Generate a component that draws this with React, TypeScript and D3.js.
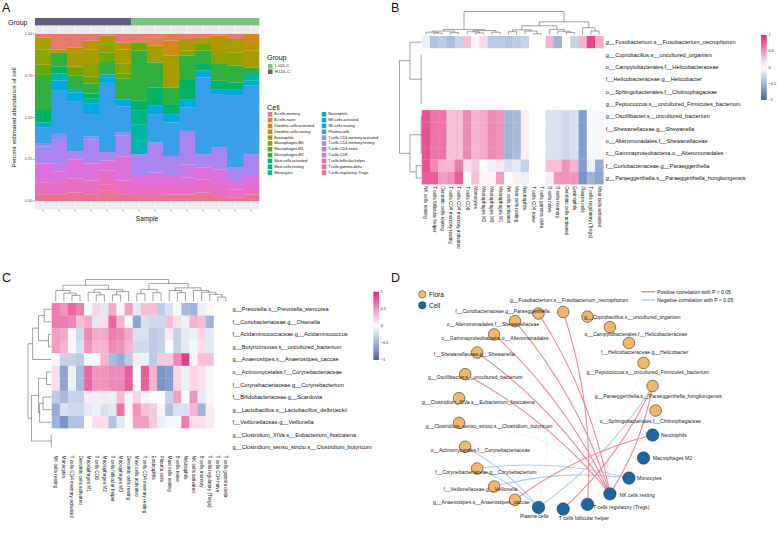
import React from "react";
import * as d3 from "d3";

const FONT = "'Liberation Sans', Arial, Helvetica, sans-serif";

// ---------------- Panel A data ----------------
const cellTypes = [
  "B.cells.memory", "B.cells.naive", "Dendritic.cells.activated", "Dendritic.cells.resting",
  "Eosinophils", "Macrophages.M0", "Macrophages.M1", "Macrophages.M2",
  "Mast.cells.activated", "Mast.cells.resting", "Monocytes", "Neutrophils",
  "NK.cells.activated", "NK.cells.resting", "Plasma.cells", "T.cells.CD4.memory.activated",
  "T.cells.CD4.memory.resting", "T.cells.CD4.naive", "T.cells.CD8", "T.cells.follicular.helper",
  "T.cells.gamma.delta", "T.cells.regulatory..Tregs.",
];
const samples = ["S1", "S2", "S3", "S4", "S5", "S6", "S7", "S8", "S9", "S10", "S11", "S12", "S13", "S14"];
const sampleGroups = ["H-LDL-C", "H-LDL-C", "H-LDL-C", "H-LDL-C", "H-LDL-C", "H-LDL-C",
  "L-LDL-C", "L-LDL-C", "L-LDL-C", "L-LDL-C", "L-LDL-C", "L-LDL-C", "L-LDL-C", "L-LDL-C"];
const groupLevels = ["L-LDL-C", "H-LDL-C"];
const groupColors = ["#78C47E", "#625D7D"];
const yTicksA = [0, 0.25, 0.5, 0.75, 1];
// rows = samples, columns = cellTypes
const abundance = [
  [.02, 0, 0, .01, .06, .09, .06, .20, .08, 0, 0, 0, 0, .03, .09, .02, .10, 0, .11, .07, 0, .04],
  [.09, 0, 0, 0, .02, 0, 0, .08, .04, 0, .02, .02, 0, .06, .25, .03, .14, .05, .06, .07, 0, .04],
  [.08, 0, 0, .03, .08, 0, .05, .08, 0, 0, 0, 0, .02, .05, .29, 0, .05, 0, .11, .08, 0, .05],
  [.04, 0, 0, .05, .08, .08, .04, .06, .03, 0, .03, 0, 0, .06, .13, .02, .14, 0, .10, .08, 0, .04],
  [.01, 0, 0, 0, .05, .05, .05, .08, 0, 0, 0, 0, .02, .03, .41, 0, .05, 0, .06, .08, .04, .06],
  [.05, 0, 0, .04, .08, .06, .03, .12, 0, 0, 0, 0, 0, .04, .15, .02, .12, 0, .14, .08, 0, .04],
  [.05, 0, 0, 0, 0, 0, .05, .30, .06, .08, .10, .08, 0, 0, 0, 0, .13, 0, .06, .06, 0, .03],
  [.02, .05, 0, 0, .10, 0, 0, .15, .11, 0, 0, 0, 0, .05, .17, 0, .18, 0, .08, .06, 0, .03],
  [0, .04, .09, 0, .19, 0, 0, .10, .06, 0, 0, 0, 0, .05, .20, 0, .12, 0, .06, .05, 0, .04],
  [.03, 0, 0, 0, .07, .03, 0, .14, .12, 0, 0, 0, 0, .05, .14, 0, .20, .08, .05, .05, 0, .04],
  [.02, 0, 0, 0, .04, 0, .04, .08, .04, 0, 0, 0, 0, .04, .46, 0, .08, 0, .07, .08, 0, .05],
  [.01, 0, 0, .05, .06, .06, 0, .10, .05, 0, 0, 0, 0, .03, .32, 0, .13, 0, .10, .06, 0, .03],
  [.03, 0, 0, 0, .08, .08, 0, .10, .04, 0, 0, 0, 0, .04, .43, 0, .08, 0, .05, .05, 0, .02],
  [0, 0, .06, .04, .10, 0, 0, .04, 0, 0, .04, 0, .03, 0, .41, 0, .13, 0, .06, .05, 0, .04],
];

// ---------------- Panel B data ----------------
const colsB = [
  "NK cells resting", "T cells follicular helper", "Dendritic cells resting", "T cells CD4 memory resting",
  "T cells CD4 memory activated", "T cells CD8", "Monocytes", "Macrophages M2", "Macrophages M0",
  "Macrophages M1", "NK cells activated", "Mast cells resting", "Neutrophils", "T cells CD4 naive",
  "T cells gamma delta", "B cells naive", "B cells memory", "Dendritic cells activated", "Eosinophils",
  "Plasma cells", "T cells regulatory (Tregs)", "Mast cells activated",
];
const rowsB = [
  "g__Fusobacterium.s__Fusobacterium_necrophorum",
  "g__Coprobacillus.s__uncultured_organism",
  "o__Campylobacterales.f__Helicobacteraceae",
  "f__Helicobacteraceae.g__Helicobacter",
  "o__Sphingobacteriales.f__Chitinophagaceae",
  "g__Peptococcus.s__uncultured_Firmicutes_bacterium",
  "g__Oscillibacter.s__uncultured_bacterium",
  "f__Shewanellaceae.g__Shewanella",
  "o__Alteromonadales.f__Shewanellaceae",
  "c__Gammaproteobacteria.o__Alteromonadales",
  "f__Coriobacteriaceae.g__Paraeggerthella",
  "g__Paraeggerthella.s__Paraeggerthella_hongkongensis",
];
const zero22 = [0, 0, 0, 0, 0, 0, 0, 0, 0, 0, 0, 0, 0, 0, 0, 0, 0, 0, 0, 0, 0, 0];
const shewRow = [0.8, 0.65, 0.65, 0.3, 0.3, 0.55, 0.35, 0.4, 0.55, 0.5, -0.5, -0.45, 0.08, 0, 0, -0.2, -0.2, -0.25, -0.2, -0.65, -0.05, -0.05];
const valuesB = [
  [-0.1, -0.4, -0.35, -0.45, -0.3, 0.3, 0.05, 0.18, -0.35, -0.35, -0.4, -0.35, -0.3, 0, 0, 0.35, -0.5, 0, -0.3, 0.35, 0.85, 0.4],
  zero22, zero22, zero22, zero22, zero22,
  shewRow, shewRow, shewRow, shewRow,
  [0.8, 0.55, 0.35, 0.35, 0.6, 0.15, 0.25, 0.03, -0.1, 0.12, -0.2, -0.15, -0.3, 0, 0, 0.3, 0.3, 0.5, 0.35, -0.65, -0.1, -0.55],
  [0.75, 0.75, 0.45, 0.5, 0.75, 0, 0.3, 0.05, 0.05, 0.45, 0, 0.08, -0.1, 0, 0, 0.08, 0.5, 0.5, 0.5, -0.7, -0.5, -0.6],
];

// ---------------- Panel C data ----------------
const colsC = [
  "NK cells resting", "Monocytes", "T cells CD4 memory activated", "Dendritic cells activated",
  "Macrophages M1", "T cells CD8", "Macrophages M2", "T cells follicular helper", "Macrophages M0",
  "Dendritic cells resting", "Mast cells activated", "T cells CD4 memory resting", "Eosinophils",
  "Plasma cells", "Mast cells resting", "B cells naive", "Neutrophils", "NK cells activated",
  "B cells memory", "T cells regulatory (Tregs)", "T cells CD4 naive", "T cells gamma delta",
];
const rowsC = [
  "g__Prevotella.s__Prevotella_stercorea",
  "f__Coriobacteriaceae.g__Olsenella",
  "f__Acidaminococcaceae.g__Acidaminococcus",
  "g__Butyricimonas.s__uncultured_bacterium",
  "g__Anaerostipes.s__Anaerostipes_caccae",
  "o__Actinomycetales.f__Corynebacteriaceae",
  "f__Corynebacteriaceae.g__Corynebacterium",
  "f__Bifidobacteriaceae.g__Scardovia",
  "g__Lactobacillus.s__Lactobacillus_delbrueckii",
  "f__Veillonellaceae.g__Veillonella",
  "g__Clostridium_XIVa.s__Eubacterium_fissicatena",
  "g__Clostridium_sensu_stricto.s__Clostridium_butyricum",
];
const valuesC = [
  [0.6, 0.5, 0.7, 0.6, -0.05, 0.2, -0.15, 0.4, 0.05, 0.45, -0.15, 0.3, 0.3, -0.35, -0.2, -0.05, -0.45, -0.5, -0.1, 0.05, 0, 0],
  [0.6, 0.6, 0.55, 0.3, 0.4, -0.15, 0.15, 0.7, 0.35, -0.05, -0.6, -0.2, -0.25, -0.25, 0.3, 0.15, -0.1, 0.35, 0.3, -0.5, 0, 0],
  [0.45, 0.4, -0.05, -0.25, 0.55, 0.4, 0.4, 0.6, 0.55, 0.4, -0.2, -0.2, -0.35, -0.3, 0.1, -0.3, -0.15, -0.1, 0.2, -0.15, 0, 0],
  [0.45, 0.35, 0.05, -0.2, 0.5, 0.35, 0.35, 0.55, 0.5, 0.35, -0.25, -0.25, -0.35, -0.3, 0, -0.3, -0.15, -0.05, 0.15, -0.15, 0, 0],
  [0.05, -0.3, -0.3, -0.35, -0.05, -0.05, 0.35, -0.45, -0.55, -0.35, 0.1, -0.1, -0.35, 0.25, 0.25, 0.55, 0.9, 0.05, 0.3, 0.3, 0, 0],
  [0.15, -0.6, -0.1, -0.45, 0.7, 0.5, 0.5, 0.55, 0.55, 0.75, 0, 0.75, 0.35, -0.7, -0.65, 0.2, -0.1, 0.2, 0.15, -0.05, 0, 0],
  [0.15, -0.6, -0.1, -0.45, 0.7, 0.5, 0.5, 0.55, 0.55, 0.75, 0, 0.75, 0.35, -0.7, -0.65, 0.2, -0.1, 0.2, 0.15, -0.05, 0, 0],
  [-0.35, -0.45, -0.3, -0.3, 0.1, -0.1, 0.1, -0.1, 0.3, -0.05, 0.2, 0.05, 0, 0, -0.3, 0.45, 0, 0.5, -0.15, 0.05, 0, 0],
  [-0.55, -0.2, -0.25, -0.25, -0.15, -0.1, -0.2, -0.15, 0.65, -0.05, 0.5, 0.3, 0.25, 0.05, -0.4, -0.2, -0.2, 0.35, -0.5, 0.1, 0, 0],
  [-0.5, -0.7, -0.4, -0.4, 0, 0.15, 0.15, -0.4, -0.15, 0, 0.45, 0.45, 0.25, -0.1, -0.05, -0.05, 0.6, 0.15, 0.15, 0.1, 0, 0],
  zero22, zero22,
];
const legendTicks = [1, 0.5, 0, -0.5, -1];

// dendrograms (leaf = index, node = {h, c})
type Tree = number | { h: number; c: Tree[] };
const N = (h: number, ...c: Tree[]): Tree => ({ h, c });
const treeBCols = N(1.0,
  N(0.22,
    N(0.15, N(0.1, 0, N(0.06, 1, 2)), N(0.08, 3, 4)),
    N(0.17, N(0.12, 5, N(0.07, 6, 7)), N(0.1, 8, 9))),
  N(0.55,
    N(0.38, N(0.2, N(0.12, 10, 11), N(0.15, 12, N(0.03, 13, 14))), N(0.22, 15, N(0.14, 16, N(0.09, 17, 18)))),
    N(0.3, 19, N(0.15, 20, 21))));
const treeBRows = N(1.0, N(0.52, 0, N(0, 1, 2, 3, 4, 5)), N(0.52, N(0, 6, 7, 8, 9), N(0.23, 10, 11)));
const treeCCols = N(1.0,
  N(0.74,
    N(0.5, 0, N(0.38, 1, N(0.28, 2, 3))),
    N(0.55, N(0.42, 4, N(0.3, 5, 6)), N(0.45, N(0.3, 7, 8), 9))),
  N(0.82,
    N(0.55, N(0.35, 10, 11), N(0.4, 12, 13)),
    N(0.62, N(0.5, 14, N(0.4, 15, 16)), N(0.5, 17, N(0.42, 18, N(0.32, 19, N(0.2, 20, 21)))))));
const treeCRows = N(1.0,
  N(0.8, N(0.55, N(0.3, 0, 1), N(0.12, 2, 3)), 4),
  N(0.85, N(0.55, N(0.2, 5, 6), N(0.5, N(0.35, 7, 8), 9)), N(0, 10, 11)));

// ---------------- Panel D data ----------------
const netNodes = [
  "o__Sphingobacteriales.f__Chitinophagaceae",
  "g__Paraeggerthella.s__Paraeggerthella_hongkongensis",
  "g__Peptococcus.s__uncultured_Firmicutes_bacterium",
  "f__Helicobacteraceae.g__Helicobacter",
  "o__Campylobacterales.f__Helicobacteraceae",
  "g__Coprobacillus.s__uncultured_organism",
  "g__Fusobacterium.s__Fusobacterium_necrophorum",
  "f__Coriobacteriaceae.g__Paraeggerthella",
  "o__Alteromonadales.f__Shewanellaceae",
  "c__Gammaproteobacteria.o__Alteromonadales",
  "f__Shewanellaceae.g__Shewanella",
  "g__Oscillibacter.s__uncultured_bacterium",
  "g__Clostridium_XIVa.s__Eubacterium_fissicatena",
  "g__Clostridium_sensu_stricto.s__Clostridium_butyricum",
  "o__Actinomycetales.f__Corynebacteriaceae",
  "f__Corynebacteriaceae.g__Corynebacterium",
  "f__Veillonellaceae.g__Veillonella",
  "g__Anaerostipes.s__Anaerostipes_caccae",
  "Plasma cells",
  "T cells follicular helper",
  "T cells regulatory (Tregs)",
  "NK cells resting",
  "Monocytes",
  "Macrophages M2",
  "Neutrophils",
];
const netTypes = ["Flora", "Flora", "Flora", "Flora", "Flora", "Flora", "Flora", "Flora", "Flora",
  "Flora", "Flora", "Flora", "Flora", "Flora", "Flora", "Flora", "Flora", "Flora",
  "Cell", "Cell", "Cell", "Cell", "Cell", "Cell", "Cell"];
// label nudges (repel result)
const labelDx = [-5.3, 5.7, 4.3, 15.7, 26, 44.7, 6, -36, -22, 1, -3, 10, 19.3, 30, 15, 8.7, -13.7, -33.7, -4.3, 20.7, 33.7, 27.3, 20.3, 29, 21.3];
const labelDy = [10.7, 10, 9, 9.3, 6.7, 0, -12.3, -2.7, 3.3, 3.3, 2, 3.3, 4.3, 3.3, 3.3, 3, 2.3, 1.7, 9, 9, 3, 1, 0, 0, 0];
const positiveEdges: [string, string][] = [
  ["f__Coriobacteriaceae.g__Paraeggerthella", "NK cells resting"],
  ["o__Alteromonadales.f__Shewanellaceae", "NK cells resting"],
  ["c__Gammaproteobacteria.o__Alteromonadales", "NK cells resting"],
  ["f__Shewanellaceae.g__Shewanella", "NK cells resting"],
  ["g__Oscillibacter.s__uncultured_bacterium", "NK cells resting"],
  ["g__Paraeggerthella.s__Paraeggerthella_hongkongensis", "NK cells resting"],
  ["g__Fusobacterium.s__Fusobacterium_necrophorum", "T cells regulatory (Tregs)"],
  ["g__Paraeggerthella.s__Paraeggerthella_hongkongensis", "T cells follicular helper"],
  ["g__Anaerostipes.s__Anaerostipes_caccae", "Neutrophils"],
];
const negativeEdges: [string, string][] = [
  ["o__Actinomycetales.f__Corynebacteriaceae", "Plasma cells"],
  ["f__Corynebacteriaceae.g__Corynebacterium", "Plasma cells"],
  ["f__Corynebacteriaceae.g__Corynebacterium", "Monocytes"],
  ["f__Veillonellaceae.g__Veillonella", "Monocytes"],
  ["g__Paraeggerthella.s__Paraeggerthella_hongkongensis", "Plasma cells"],
];
const weakEdges: [string, string][] = [
  ["g__Paraeggerthella.s__Paraeggerthella_hongkongensis", "Monocytes"],
  ["g__Paraeggerthella.s__Paraeggerthella_hongkongensis", "T cells regulatory (Tregs)"],
  ["o__Sphingobacteriales.f__Chitinophagaceae", "Plasma cells"],
  ["g__Peptococcus.s__uncultured_Firmicutes_bacterium", "T cells follicular helper"],
  ["f__Coriobacteriaceae.g__Paraeggerthella", "Plasma cells"],
  ["g__Fusobacterium.s__Fusobacterium_necrophorum", "NK cells resting"],
  ["g__Clostridium_XIVa.s__Eubacterium_fissicatena", "NK cells resting"],
  ["g__Clostridium_sensu_stricto.s__Clostridium_butyricum", "Monocytes"],
];

// ---------------- helpers ----------------
function hueColor(h: number, c = 100, l = 65): string {
  const hr = (h * Math.PI) / 180;
  const u = c * Math.cos(hr), v = c * Math.sin(hr);
  const Xn = 95.047, Yn = 100, Zn = 108.883;
  const den = Xn + 15 * Yn + 3 * Zn;
  const un = (4 * Xn) / den, vn = (9 * Yn) / den;
  const Y = l > 8 ? Yn * Math.pow((l + 16) / 116, 3) : (Yn * l) / 903.3;
  const up = u / (13 * l) + un, vp = v / (13 * l) + vn;
  const X = (9 * Y * up) / (4 * vp);
  const Z = ((12 - 3 * up - 20 * vp) * Y) / (4 * vp);
  const x = X / 100, y = Y / 100, z = Z / 100;
  const lin = [
    3.2404542 * x - 1.5371385 * y - 0.4985314 * z,
    -0.969266 * x + 1.8760108 * y + 0.041556 * z,
    0.0556434 * x - 0.2040259 * y + 1.0572252 * z,
  ];
  const g = lin.map((t) => {
    const s = t <= 0.0031308 ? 12.92 * t : 1.055 * Math.pow(t, 1 / 2.4) - 0.055;
    return Math.max(0, Math.min(255, Math.round(s * 255)));
  });
  return d3.rgb(g[0], g[1], g[2]).formatHex();
}

const cellColors = cellTypes.map((_, i) => hueColor(15 + (360 / cellTypes.length) * i, 82, 63));
const heatColor = d3.scaleLinear<string>().domain([-1, 0, 1]).range(["#3F68B3", "#FFFFFF", "#E0277B"]);

function dendroSegs(tree: Tree, leafPos: (i: number) => number) {
  const segs: [number, number, number, number][] = [];
  const walk = (t: Tree): { p: number; h: number } => {
    if (typeof t === "number") return { p: leafPos(t), h: 0 };
    const kids = t.c.map(walk);
    const ps = kids.map((k) => k.p);
    const lo = d3.min(ps) as number, hi = d3.max(ps) as number;
    kids.forEach((k) => segs.push([k.p, k.h, k.p, t.h]));
    segs.push([lo, t.h, hi, t.h]);
    return { p: (lo + hi) / 2, h: t.h };
  };
  walk(tree);
  return segs;
}

// ---------------- Panel A ----------------
function PanelA() {
  const x = d3.scaleBand().domain(samples).range([35, 259]).padding(0);
  const y = d3.scaleLinear().domain([-0.05, 1.05]).range([209.4, 25.6]);
  const table = samples.map((s, i) => {
    const tot = d3.sum(abundance[i]);
    const o: any = { sample: s };
    cellTypes.forEach((c, j) => (o[c] = abundance[i][j] / tot));
    return o;
  });
  const keys = [...cellTypes].reverse();
  const series = d3.stack().keys(keys)(table);
  const gColor = d3.scaleOrdinal<string, string>().domain(groupLevels).range(groupColors);
  const cColor = d3.scaleOrdinal<string, string>().domain(cellTypes).range(cellColors);
  const bw = x.bandwidth();
  return (
    <g fontFamily={FONT}>
      <text x={2} y={12} fontSize={12.5} fill="#111">A</text>
      <text x={8} y={24.5} fontSize={7} fill="#111">Group</text>
      {samples.map((s, i) => (
        <rect key={s} x={x(s)} y={18} width={bw + 0.3} height={7.6} fill={gColor(sampleGroups[i])} />
      ))}
      <rect x={35} y={25.6} width={224} height={183.8} fill="#EBEBEB" />
      {samples.map((s) => (
        <line key={s} x1={(x(s) as number) + bw / 2} x2={(x(s) as number) + bw / 2} y1={25.6} y2={209.4} stroke="#fff" strokeWidth={0.6} />
      ))}
      {series.map((ser) => (
        <g key={ser.key} fill={cColor(ser.key)}>
          {ser.map((d, i) => (
            <rect key={i} x={x(samples[i])} y={y(d[1])} width={bw + 0.3} height={Math.max(0, y(d[0]) - y(d[1]))} />
          ))}
        </g>
      ))}
      {yTicksA.map((t) => (
        <g key={t}>
          <line x1={32.5} x2={35} y1={y(t)} y2={y(t)} stroke="#333" strokeWidth={0.4} />
          <text x={32} y={y(t)} fontSize={3.7} textAnchor="end" dominantBaseline="central" fill="#4D4D4D">{t.toFixed(2)}</text>
        </g>
      ))}
      {samples.map((s) => (
        <line key={s} x1={(x(s) as number) + bw / 2} x2={(x(s) as number) + bw / 2} y1={209.4} y2={211.6} stroke="#333" strokeWidth={0.4} />
      ))}
      <text transform="translate(16,117.5) rotate(-90)" fontSize={6.2} textAnchor="middle" fill="#111">Percent estimated abundance of cell</text>
      <text x={147} y={221} fontSize={6.6} textAnchor="middle" fill="#111">Sample</text>
      {/* Group legend */}
      <text x={267} y={59.5} fontSize={7} fill="#111">Group</text>
      {groupLevels.map((g, i) => (
        <g key={g}>
          <rect x={268} y={64 + i * 5.4} width={4.6} height={4.6} fill={gColor(g)} />
          <text x={275} y={66.3 + i * 5.4} fontSize={3.8} dominantBaseline="central" fill="#111">{g}</text>
        </g>
      ))}
      {/* Cell legend */}
      <text x={267} y={110} fontSize={7.4} fill="#111">Cell</text>
      {cellTypes.map((c, i) => {
        const col = Math.floor(i / 11), row = i % 11;
        const cx = 267.7 + col * 54;
        const cy = 114.3 + row * 5.83;
        return (
          <g key={c}>
            <rect x={cx} y={cy - 2.3} width={4.6} height={4.6} fill={cColor(c)} />
            <text x={cx + 6.5} y={cy} fontSize={3.8} dominantBaseline="central" fill="#111">{c}</text>
          </g>
        );
      })}
    </g>
  );
}

// ---------------- heatmap panels ----------------
type HeatProps = {
  letter: string; lx: number; ly: number;
  cols: string[]; rows: string[]; values: number[][];
  colTree: Tree; rowTree: Tree;
  x0: number; x1: number; y0: number; y1: number;
  dendTop: number; dendLeft: number;
  legX: number; legY0: number; legY1: number; gradId: string;
};
function Heatmap(p: HeatProps) {
  const x = d3.scaleBand().domain(p.cols).range([p.x0, p.x1]);
  const y = d3.scaleBand().domain(p.rows).range([p.y0, p.y1]);
  const bw = x.bandwidth(), bh = y.bandwidth();
  const colH = d3.scaleLinear().domain([0, 1]).range([p.y0 - 1.5, p.dendTop]);
  const rowH = d3.scaleLinear().domain([0, 1]).range([p.x0 - 0.5, p.dendLeft]);
  const cSegs = dendroSegs(p.colTree, (i) => (x(p.cols[i]) as number) + bw / 2);
  const rSegs = dendroSegs(p.rowTree, (i) => (y(p.rows[i]) as number) + bh / 2);
  const leg = d3.scaleLinear().domain([1, -1]).range([p.legY0, p.legY1]);
  return (
    <g fontFamily={FONT}>
      <defs>
        <linearGradient id={p.gradId} x1="0" y1="0" x2="0" y2="1">
          {d3.range(0, 1.001, 0.1).map((t) => (
            <stop key={t} offset={t} stopColor={heatColor(1 - 2 * t)} />
          ))}
        </linearGradient>
      </defs>
      <text x={p.lx} y={p.ly} fontSize={12.5} fill="#111">{p.letter}</text>
      {p.values.map((row, ri) =>
        row.map((v, ci) => (
          <rect key={`${ri}-${ci}`} x={x(p.cols[ci])} y={y(p.rows[ri])} width={bw + 0.25} height={bh + 0.25} fill={heatColor(v)} />
        ))
      )}
      <g stroke="#444" strokeWidth={0.5} fill="none">
        {cSegs.map((s, i) => (
          <line key={i} x1={s[0]} y1={colH(s[1])} x2={s[2]} y2={colH(s[3])} />
        ))}
        {rSegs.map((s, i) => (
          <line key={i} x1={rowH(s[1])} y1={s[0]} x2={rowH(s[3])} y2={s[2]} />
        ))}
      </g>
      {p.rows.map((r) => (
        <text key={r} x={p.x1 + 2.5} y={(y(r) as number) + bh / 2} fontSize={5.6} dominantBaseline="central" fill="#111">{r}</text>
      ))}
      {p.cols.map((c) => (
        <text key={c} transform={`translate(${(x(c) as number) + bw / 2},${p.y1 + 2}) rotate(90)`} fontSize={4.7} dominantBaseline="central" fill="#111">{c}</text>
      ))}
      <rect x={p.legX} y={p.legY0} width={5.7} height={p.legY1 - p.legY0} fill={`url(#${p.gradId})`} />
      {legendTicks.map((t) => (
        <text key={t} x={p.legX + 7.5} y={leg(t)} fontSize={3.8} dominantBaseline="central" fill="#222">{t === -0.5 ? "−0.5" : t === -1 ? "−1" : String(t)}</text>
      ))}
    </g>
  );
}

// ---------------- Panel D ----------------
function PanelD() {
  const n = netNodes.length;
  const sx = d3.scaleLinear().domain([-1, 1]).range([557 - 98.7, 557 + 98.7]);
  const sy = d3.scaleLinear().domain([-1, 1]).range([410.5 + 98.7, 410.5 - 98.7]);
  const pos = new Map<string, [number, number]>();
  netNodes.forEach((name, i) => {
    const a = (2 * Math.PI * i) / n;
    pos.set(name, [sx(Math.cos(a)), sy(Math.sin(a))]);
  });
  const arc = (a: string, b: string) => {
    const [x1, y1] = pos.get(a)!;
    const [x2, y2] = pos.get(b)!;
    const k = -0.1;
    const cx = (x1 + x2) / 2 - (y2 - y1) * k;
    const cy = (y1 + y2) / 2 + (x2 - x1) * k;
    const p = d3.path();
    p.moveTo(x1, y1);
    p.quadraticCurveTo(cx, cy, x2, y2);
    return p.toString();
  };
  const fill = (t: string) => (t === "Flora" ? "#F4B66A" : "#1F64A3");
  const stroke = (t: string) => (t === "Flora" ? "#3b3228" : "#163a5e");
  return (
    <g fontFamily={FONT}>
      <text x={391} y={282} fontSize={12.5} fill="#111">D</text>
      {weakEdges.map(([a, b], i) => (
        <path key={`w${i}`} d={arc(a, b)} fill="none" stroke="#E6E6E6" strokeWidth={0.5} />
      ))}
      {negativeEdges.map(([a, b], i) => (
        <path key={`n${i}`} d={arc(a, b)} fill="none" stroke="#B0CDE9" strokeWidth={1.1} />
      ))}
      {positiveEdges.map(([a, b], i) => (
        <path key={`p${i}`} d={arc(a, b)} fill="none" stroke="#EF8A90" strokeWidth={1.1} />
      ))}
      {netNodes.map((name, i) => {
        const [cx, cy] = pos.get(name)!;
        return <circle key={name} cx={cx} cy={cy} r={netTypes[i] === "Flora" ? 5.8 : 6.2} fill={fill(netTypes[i])} stroke={stroke(netTypes[i])} strokeWidth={0.6} />;
      })}
      {netNodes.map((name, i) => {
        const [cx, cy] = pos.get(name)!;
        return (
          <text key={name} x={cx + labelDx[i]} y={cy + labelDy[i]} fontSize={5.1} textAnchor="middle" dominantBaseline="central" fill="#1a1a1a">{name}</text>
        );
      })}
      {/* node legend */}
      {["Flora", "Cell"].map((t, i) => (
        <g key={t}>
          <circle cx={422.3} cy={294.3 + i * 11} r={3.7} fill={fill(t)} stroke={stroke(t)} strokeWidth={0.5} />
          <text x={429} y={294.3 + i * 11} fontSize={6.5} dominantBaseline="central" fill="#111">{t}</text>
        </g>
      ))}
      {/* edge legend */}
      {[["Positive correlation with P < 0.05", "#EF8A90"], ["Negative correlation with P < 0.05", "#B0CDE9"]].map(([t, c], i) => (
        <g key={t}>
          <line x1={641.5} x2={655} y1={291.7 + i * 8.3} y2={291.7 + i * 8.3} stroke={c} strokeWidth={1.4} />
          <text x={657} y={291.7 + i * 8.3} fontSize={5.1} dominantBaseline="central" fill="#111">{t}</text>
        </g>
      ))}
    </g>
  );
}

export default function App() {
  return (
    <svg width={777} height={534} style={{ position: "absolute", left: 0, top: 0, background: "#fff" }}>
      <rect width={777} height={534} fill="#fff" />
      <PanelA />
      <Heatmap letter="B" lx={391} ly={12} cols={colsB} rows={rowsB} values={valuesB}
        colTree={treeBCols} rowTree={treeBRows}
        x0={421.7} x1={603.3} y0={36} y1={184.2} dendTop={11.5} dendLeft={399.5}
        legX={761} legY0={35} legY1={100} gradId="gradB" />
      <Heatmap letter="C" lx={2} ly={282} cols={colsC} rows={rowsC} values={valuesC}
        colTree={treeCCols} rowTree={treeCRows}
        x0={51.7} x1={230} y0={303} y1={453.6} dendTop={279.5} dendLeft={28}
        legX={373.3} legY0={291.7} legY1={360} gradId="gradC" />
      <PanelD />
    </svg>
  );
}
